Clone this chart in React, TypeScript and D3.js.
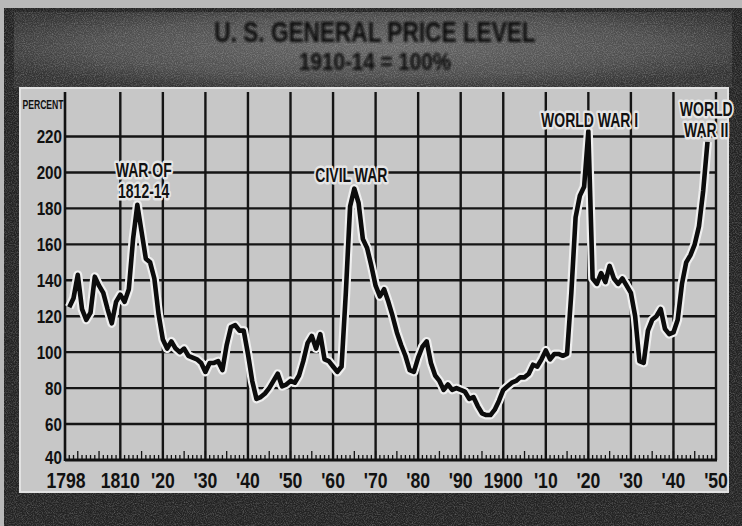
import React, { useEffect, useRef } from 'react';
import * as d3 from 'd3';

// Wholesale price index, 1910-14 = 100
const firstYear = 1798;
const priceIndex = [
  125, 130,
  143, 124, 118, 122, 142, 137, 133, 124, 116, 128,
  132, 128, 135, 163, 182, 167, 152, 150, 141, 121,
  107, 102, 106, 102, 100, 102, 98, 97, 96, 94,
  89, 94, 94, 95, 90, 104, 114, 115, 112, 112,
  99, 84, 74, 75, 77, 80, 84, 88, 81, 82,
  84, 83, 87, 95, 105, 109, 102, 110, 96, 95,
  92, 89, 92, 133, 181, 191, 183, 163, 158, 148,
  137, 131, 135, 128, 120, 111, 104, 98, 90, 89,
  97, 103, 106, 94, 87, 84, 79, 82, 79, 80,
  79, 78, 74, 75, 70, 66, 65, 65, 68, 73,
  79, 81, 83, 84, 86, 86, 88, 93, 92, 96,
  101, 96, 99, 99, 98, 99, 133, 175, 187, 192,
  223, 141, 138, 144, 139, 148, 141, 138, 141, 137,
  133, 120, 95, 94, 112, 118, 120, 124, 113, 110,
  111, 118, 138, 150, 154, 160, 170, 190, 217,
];

const gridYears = [1810, 1820, 1830, 1840, 1850, 1860, 1870, 1880, 1890, 1900, 1910, 1920, 1930, 1940, 1950];
const gridLabels = ['1810', "'20", "'30", "'40", "'50", "'60", "'70", "'80", "'90", '1900', "'10", "'20", "'30", "'40", "'50"];
const startLabel = '1798';
const yTicks = [40, 60, 80, 100, 120, 140, 160, 180, 200, 220];

const annotations = [
  { lines: ['WAR OF', '1812-14'], year: 1815.5, y: 177 },
  { lines: ['CIVIL WAR'], year: 1864.3, y: 182 },
  { lines: ['WORLD WAR I'], year: 1920.3, y: 127 },
  { lines: ['WORLD', 'WAR II'], year: 1947.7, y: 116 },
];

const FONT = "'Liberation Sans', 'DejaVu Sans', Arial, sans-serif";

type Sel = d3.Selection<any, unknown, null, undefined>;

// condensed bold text: the old newspaper face is narrow, so squeeze horizontally
function narrowText(parent: Sel, txt: string, px: number, py: number, size: number, squeeze: number, anchor = 'middle') {
  return parent.append('text')
    .attr('transform', `translate(${px},${py}) scale(${squeeze},1)`)
    .attr('text-anchor', anchor)
    .style('font-family', FONT).style('font-weight', 'bold').style('font-size', `${size}px`)
    .attr('fill', '#111')
    .text(txt);
}

export default function App() {
  const svgRef = useRef<SVGSVGElement | null>(null);

  useEffect(() => {
    const width = 742;
    const height = 526;
    const svg = d3.select(svgRef.current);
    svg.html('');
    svg.attr('width', width).attr('height', height).attr('viewBox', `0 0 ${width} ${height}`);

    const data = priceIndex.map((v, i) => ({ year: firstYear + i, value: v }));

    const x = d3.scaleLinear().domain([1797, 1950]).range([65, 716]);
    const y = d3.scaleLinear().domain([40, 220]).range([460, 136.5]);
    const plotTop = 92;

    const defs = svg.append('defs');
    const noise = defs.append('filter').attr('id', 'grain').attr('x', 0).attr('y', 0).attr('width', '100%').attr('height', '100%');
    noise.append('feTurbulence').attr('type', 'fractalNoise').attr('baseFrequency', 0.9).attr('numOctaves', 2).attr('seed', 7).attr('result', 't');
    noise.append('feColorMatrix').attr('in', 't').attr('type', 'matrix')
      .attr('values', '0 0 0 0 1  0 0 0 0 1  0 0 0 0 1  1.8 0 0 0 -0.7');
    const soft = defs.append('filter').attr('id', 'soft');
    soft.append('feGaussianBlur').attr('stdDeviation', 0.8);
    const band = defs.append('radialGradient').attr('id', 'band').attr('cx', '50%').attr('cy', '45%').attr('r', '60%');
    band.append('stop').attr('offset', '0%').attr('stop-color', '#666');
    band.append('stop').attr('offset', '65%').attr('stop-color', '#4e4e4e');
    band.append('stop').attr('offset', '100%').attr('stop-color', '#333');

    // photo surround
    svg.append('rect').attr('width', width).attr('height', height).attr('fill', '#b9b9b9');
    svg.append('rect').attr('x', 4).attr('y', 8).attr('width', width - 4).attr('height', height - 8).attr('fill', '#232323');
    svg.append('rect').attr('x', 14).attr('y', 12).attr('width', width - 24).attr('height', 76).attr('fill', 'url(#band)');
    svg.append('rect').attr('x', 4).attr('y', 8).attr('width', width - 4).attr('height', height - 8)
      .attr('filter', 'url(#grain)').attr('opacity', 0.28);

    // title
    const title = svg.append('g').attr('filter', 'url(#soft)');
    narrowText(title, 'U. S. GENERAL PRICE LEVEL', 375, 42, 29, 0.78).attr('fill', '#0a0a0a');
    narrowText(title, '1910-14 = 100%', 375, 70, 24, 0.86).attr('fill', '#0a0a0a');

    // chart panel
    svg.append('rect').attr('x', 20).attr('y', 88).attr('width', 708).attr('height', 404)
      .attr('fill', '#c7c7c7').attr('stroke', '#e2e2e2').attr('stroke-width', 2);

    const g = svg.append('g');

    // horizontal grid
    g.selectAll('line.h').data(yTicks.filter(d => d > 40)).join('line')
      .attr('class', 'h')
      .attr('x1', x.range()[0]).attr('x2', x.range()[1])
      .attr('y1', d => y(d)).attr('y2', d => y(d))
      .attr('stroke', '#151515').attr('stroke-width', 2.4);

    // vertical grid
    g.selectAll('line.v').data(gridYears).join('line')
      .attr('class', 'v')
      .attr('x1', d => x(d)).attr('x2', d => x(d))
      .attr('y1', plotTop).attr('y2', y(40))
      .attr('stroke', '#151515').attr('stroke-width', 2.4);

    // left axis and baseline
    g.append('line').attr('x1', x.range()[0]).attr('x2', x.range()[0]).attr('y1', plotTop).attr('y2', y(40) + 1)
      .attr('stroke', '#111').attr('stroke-width', 2.6);
    g.append('line').attr('x1', x.range()[0]).attr('x2', x.range()[1] + 1).attr('y1', y(40)).attr('y2', y(40))
      .attr('stroke', '#111').attr('stroke-width', 3);

    // yearly minor ticks
    const tickYears = d3.range(1798, 1950);
    g.selectAll('line.t').data(tickYears).join('line')
      .attr('class', 't')
      .attr('x1', d => x(d)).attr('x2', d => x(d))
      .attr('y1', y(40)).attr('y2', d => y(40) - (d % 5 === 0 ? 9 : 5))
      .attr('stroke', '#111').attr('stroke-width', 1.3);

    // y labels
    yTicks.forEach(v => {
      narrowText(g, String(v), 62, y(v) + (v === 40 ? 4 : 6.5), 19, 0.8, 'end');
    });
    narrowText(g, 'PERCENT', 43, 109, 12, 0.72);

    // x labels
    narrowText(g, startLabel, x.range()[0] + 1, 488, 22, 0.8);
    gridYears.forEach((yr, i) => {
      narrowText(g, gridLabels[i], x(yr), 488, 22, 0.8);
    });

    // price line with light halo
    const line = d3.line<{ year: number; value: number }>()
      .x(d => x(d.year)).y(d => y(d.value));
    g.append('path').datum(data).attr('d', line).attr('fill', 'none')
      .attr('stroke', '#efefef').attr('stroke-width', 9).attr('stroke-linejoin', 'round');
    g.append('path').datum(data).attr('d', line).attr('fill', 'none')
      .attr('stroke', '#0c0c0c').attr('stroke-width', 4.6).attr('stroke-linejoin', 'round');

    // war annotations
    annotations.forEach(a => {
      a.lines.forEach((l, i) => {
        narrowText(g, l, x(a.year), a.y + i * 21, 20, 0.7)
          .attr('stroke', '#e6e6e6').attr('stroke-width', 5)
          .attr('stroke-linejoin', 'round').style('paint-order', 'stroke');
      });
    });
  }, []);

  return <svg ref={svgRef} style={{ position: 'absolute', left: 0, top: 0, display: 'block' }}></svg>;
}
